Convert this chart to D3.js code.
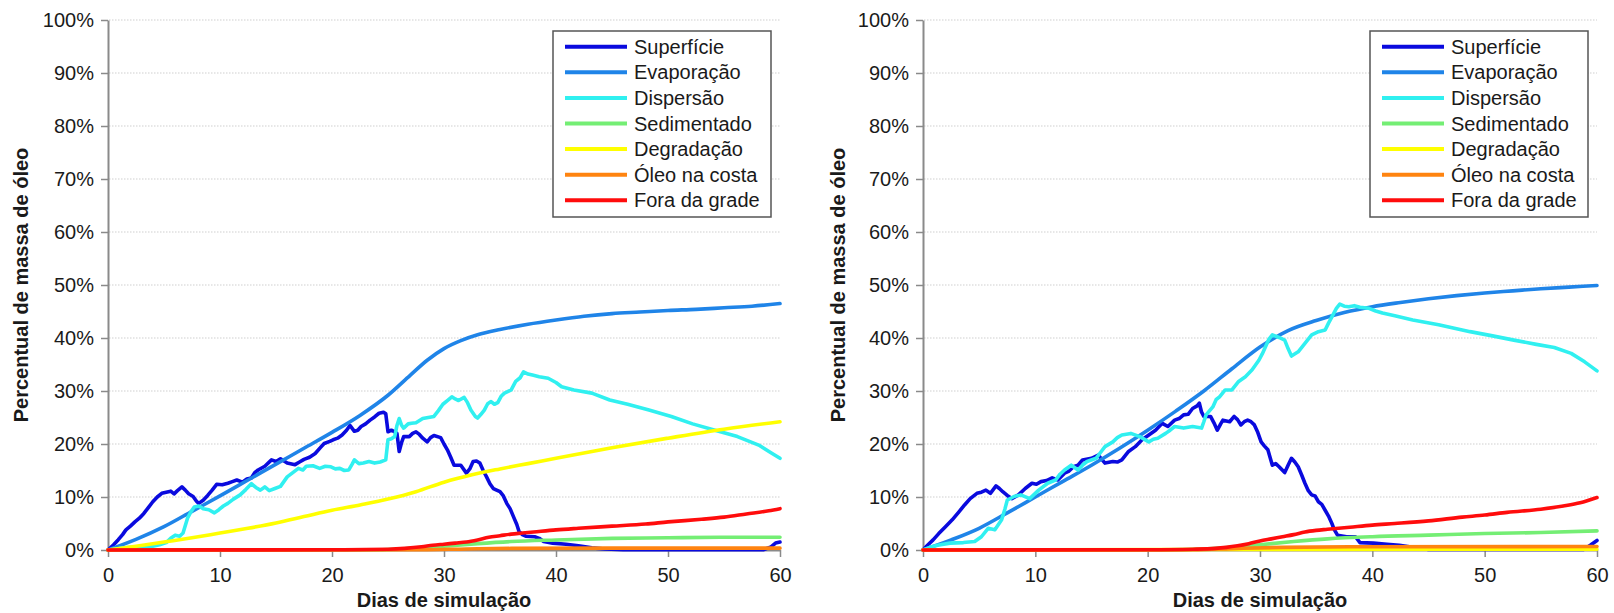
<!DOCTYPE html>
<html>
<head>
<meta charset="utf-8">
<script src="https://cdn.jsdelivr.net/npm/d3@7"></script>
<style>
  html, body { margin: 0; padding: 0; background: #fff; }
  svg { display: block; }
  text { font-family: "Liberation Sans", Arial, sans-serif; fill: #1a1a1a; }
</style>
</head>
<body>
<svg id="chart" width="1614" height="613"></svg>
<script>
// Series legend labels and colours (drawing order = legend order)
const seriesNames = ["Superfície", "Evaporação", "Dispersão", "Sedimentado", "Degradação", "Óleo na costa", "Fora da grade"];
const seriesColors = ["#0a0ade", "#1f84e8", "#30f0f0", "#74ee74", "#ffff00", "#ff8410", "#ff0c0c"];

const xTicks = [0, 10, 20, 30, 40, 50, 60];
const yTicks = [0, 10, 20, 30, 40, 50, 60, 70, 80, 90, 100];
const xTitle = "Dias de simulação";
const yTitle = "Percentual de massa de óleo";

// ---- Scenario A: [day, % of oil mass] ----
const aSuperficie = [[0,0],[0.5,1.0],[0.9,1.9],[1.3,2.9],[1.6,3.8],[2.0,4.5],[2.4,5.3],[2.8,6.0],[3.2,6.9],[3.6,8.0],[4.0,9.1],[4.4,10.0],[4.8,10.7],[5.2,10.9],[5.6,11.1],[5.9,10.6],[6.2,11.2],[6.6,11.9],[6.9,11.3],[7.2,10.6],[7.6,10.1],[7.9,9.2],[8.1,8.8],[8.5,9.4],[8.9,10.3],[9.3,11.3],[9.7,12.4],[10.2,12.3],[10.7,12.6],[11.1,12.9],[11.5,13.2],[12.0,12.8],[12.4,13.4],[12.8,13.6],[13.1,14.6],[13.4,15.1],[14.0,15.8],[14.6,17.0],[15.0,16.7],[15.4,17.2],[16.0,16.4],[16.7,16.1],[17.1,16.6],[17.5,17.1],[18.0,17.5],[18.5,18.2],[19.0,19.4],[19.3,20.1],[19.8,20.5],[20.1,20.8],[20.5,21.1],[20.9,21.7],[21.3,22.6],[21.6,23.5],[22.0,22.4],[22.3,22.6],[22.6,23.3],[23.0,23.8],[23.4,24.5],[23.8,25.1],[24.2,25.8],[24.6,26.0],[24.8,25.7],[25.0,22.3],[25.3,22.6],[25.6,22.3],[25.8,22.0],[26.0,18.6],[26.2,20.2],[26.4,21.4],[26.9,21.4],[27.2,22.0],[27.5,22.3],[27.8,21.8],[28.1,21.1],[28.5,20.4],[28.8,21.2],[29.1,21.6],[29.7,21.2],[30.0,20.0],[30.3,18.9],[30.6,17.5],[30.9,16.0],[31.5,16.0],[32.0,14.5],[32.3,15.3],[32.6,16.7],[32.9,16.8],[33.2,16.4],[33.5,15.0],[33.8,13.8],[34.1,12.5],[34.4,11.6],[35.0,11.0],[35.3,10.2],[35.6,8.8],[35.9,7.8],[36.2,6.3],[36.5,4.8],[36.7,3.5],[37.0,2.9],[37.3,2.6],[38.1,2.5],[38.5,2.2],[38.9,1.6],[39.7,1.3],[40.9,1.1],[42.0,0.8],[43.2,0.4],[44.4,0.2],[46.0,0.05],[58.5,0.05],[59.2,0.6],[59.6,1.3],[60,1.5]];
const aEvaporacao = [[0,0],[2.5,2.0],[5,4.4],[7.5,7.3],[10,10.2],[12.5,13.2],[15,16.2],[17.5,19.2],[20,22.2],[22.5,25.4],[25,29.2],[27,33.0],[28.5,35.8],[30,38.0],[31.5,39.5],[33,40.6],[35,41.6],[37.5,42.6],[40,43.4],[42.5,44.1],[45,44.6],[47.5,44.9],[50,45.2],[52.5,45.4],[55,45.7],[57.5,46.0],[60,46.5]];
const aDispersao = [[0,0],[1,0.3],[2,0.5],[3,0.6],[4,0.7],[4.6,1.0],[5.2,1.4],[5.6,2.2],[6.0,2.8],[6.4,2.6],[6.7,3.2],[7.1,6.0],[7.4,7.2],[7.7,8.1],[8.1,8.3],[8.5,7.8],[9.0,7.6],[9.5,7.0],[9.9,7.6],[10.3,8.3],[10.7,8.8],[11.2,9.6],[11.8,10.4],[12.3,11.4],[12.8,12.5],[13.2,11.8],[13.6,11.3],[14.0,11.9],[14.4,11.2],[14.9,11.6],[15.4,12.0],[15.7,12.9],[16.0,13.8],[16.5,14.6],[17.0,15.4],[17.4,15.1],[17.7,15.8],[18.3,15.9],[18.9,15.4],[19.4,15.8],[19.9,15.7],[20.3,15.3],[20.7,15.4],[21.1,15.0],[21.5,15.1],[21.8,16.2],[22.0,17.0],[22.4,16.3],[22.8,16.4],[23.3,16.7],[23.8,16.4],[24.3,16.6],[24.8,17.0],[25.0,20.8],[25.3,21.0],[25.6,21.4],[25.8,23.5],[26.0,24.8],[26.2,23.6],[26.4,23.0],[26.8,23.8],[27.1,23.9],[27.5,24.0],[28.1,24.8],[28.6,25.0],[29.1,25.2],[29.5,26.3],[29.9,27.5],[30.3,28.2],[30.7,28.9],[31.0,28.5],[31.3,28.2],[31.8,28.8],[32.1,27.8],[32.4,26.4],[32.8,25.2],[33.0,24.9],[33.3,25.6],[33.6,26.4],[33.9,27.6],[34.2,28.0],[34.5,27.5],[34.8,27.8],[35.1,29.0],[35.4,29.6],[36.0,30.2],[36.4,31.8],[36.8,32.5],[37.1,33.6],[37.5,33.2],[37.9,33.0],[38.5,32.7],[39.3,32.4],[40.0,31.6],[40.5,30.8],[41.6,30.2],[43.2,29.6],[44.8,28.3],[46.4,27.5],[48.3,26.4],[50.3,25.2],[52.2,23.8],[54.2,22.6],[56.2,21.4],[58.1,19.8],[59.3,18.2],[60,17.3]];
const aSedimentado = [[0,0],[24,0.05],[27,0.3],[30,0.7],[33,1.2],[36,1.6],[40,1.9],[45,2.2],[50,2.3],[55,2.4],[60,2.4]];
const aDegradacao = [[0,0],[2.5,0.7],[5,1.5],[7.5,2.3],[10,3.2],[12.5,4.1],[15,5.1],[17.5,6.3],[20,7.5],[22.5,8.5],[25,9.6],[27.5,11.0],[30,12.8],[32.5,14.2],[35,15.3],[37.5,16.3],[40,17.3],[45,19.3],[50,21.1],[55,22.8],[60,24.2]];
const aOleoCosta = [[0,0],[28,0.05],[32,0.2],[36,0.3],[45,0.35],[60,0.35]];
const aForaGrade = [[0,0],[20,0.05],[25,0.15],[26.5,0.3],[28,0.6],[29,0.9],[30,1.1],[31,1.3],[32,1.5],[33,1.9],[34,2.4],[35,2.7],[36,3.0],[37,3.2],[38,3.4],[40,3.8],[42,4.1],[45,4.5],[48,4.9],[50,5.3],[53,5.8],[55,6.2],[57,6.8],[59,7.4],[60,7.8]];

// ---- Scenario B: [day, % of oil mass] ----
const bSuperficie = [[0,0],[0.4,0.9],[0.9,1.9],[1.4,3.1],[2.0,4.4],[2.6,5.7],[3.2,7.2],[3.7,8.5],[4.2,9.7],[4.8,10.7],[5.2,10.9],[5.6,11.3],[6.0,10.7],[6.5,12.1],[6.8,11.6],[7.1,11.0],[7.5,10.3],[7.9,9.7],[8.5,10.4],[9.1,11.6],[9.7,12.6],[10.1,12.4],[10.5,12.9],[11.0,13.1],[11.5,13.6],[12.0,13.2],[12.6,14.5],[13.0,14.9],[13.4,15.7],[13.8,16.0],[14.2,17.0],[15.0,17.3],[15.6,17.9],[16.2,16.4],[16.9,16.7],[17.3,16.6],[17.7,17.0],[18.3,18.6],[18.9,19.5],[19.5,20.8],[20.1,21.7],[20.7,22.6],[21.3,23.9],[21.8,23.3],[22.4,24.5],[22.8,24.8],[23.2,25.5],[23.6,25.6],[24.0,26.7],[24.4,27.2],[24.6,27.7],[24.8,26.0],[25.0,25.2],[25.6,25.2],[25.9,24.0],[26.2,22.6],[26.5,23.8],[26.7,24.5],[27.3,24.2],[27.7,25.2],[28.0,24.6],[28.3,23.6],[28.6,24.2],[28.9,24.5],[29.2,24.2],[29.5,23.6],[29.8,22.2],[30.1,20.4],[30.4,19.6],[30.7,18.9],[31.1,16.0],[31.4,16.3],[31.7,15.7],[32.2,14.6],[32.5,16.0],[32.8,17.3],[33.1,16.6],[33.4,15.7],[33.7,14.2],[34.0,12.6],[34.3,11.2],[34.6,10.4],[34.9,10.2],[35.2,9.1],[35.5,8.6],[35.8,7.5],[36.1,6.4],[36.4,5.0],[36.6,3.9],[36.9,2.8],[37.7,2.5],[38.5,2.5],[38.9,1.4],[40.1,1.3],[41.3,1.1],[42.4,0.9],[43.6,0.5],[45.0,0.1],[58.8,0.1],[59.4,0.9],[60,1.8]];
const bEvaporacao = [[0,0],[2.5,1.9],[5,4.1],[7.5,7.0],[10,10.0],[12.5,13.0],[15,16.0],[17.5,19.2],[20,22.6],[22.5,26.2],[25,30.0],[27.5,34.2],[30,38.3],[32.5,41.4],[35,43.3],[37.5,44.8],[40,45.9],[42.5,46.7],[45,47.4],[47.5,48.0],[50,48.5],[52.5,48.9],[55,49.3],[57.5,49.6],[60,49.9]];
const bDispersao = [[0,0],[0.6,0.5],[1.3,0.9],[2.4,1.3],[3.6,1.4],[4.6,1.6],[5.2,2.5],[5.8,4.1],[6.4,3.8],[7.0,5.7],[7.3,7.8],[7.5,9.4],[8.1,10.1],[8.7,10.4],[9.5,9.7],[10.3,11.3],[11.1,12.6],[11.8,13.2],[12.2,14.3],[12.6,15.1],[13.2,16.0],[13.8,15.1],[14.2,16.0],[14.6,16.7],[15.4,17.3],[15.8,18.4],[16.2,19.5],[16.9,20.4],[17.3,21.2],[17.7,21.7],[18.5,22.0],[19.3,21.4],[20.1,20.4],[20.5,20.9],[20.9,21.1],[21.6,22.0],[22.0,22.6],[22.4,23.3],[23.2,23.0],[24.0,23.3],[24.8,23.0],[25.0,24.2],[25.2,25.5],[25.8,27.0],[26.1,28.4],[26.4,28.9],[26.9,30.2],[27.5,30.2],[28.1,31.8],[28.7,32.7],[29.3,34.0],[29.9,35.8],[30.2,37.0],[30.5,38.4],[30.8,39.8],[31.1,40.6],[31.7,40.1],[32.2,39.6],[32.5,38.0],[32.8,36.6],[33.4,37.4],[34.0,39.0],[34.6,40.6],[35.2,41.2],[35.8,41.5],[36.1,42.8],[36.4,44.0],[36.8,45.6],[37.1,46.4],[37.5,46.0],[37.9,45.9],[38.4,46.1],[38.9,45.8],[39.7,45.6],[40.3,45.1],[40.9,44.7],[42.0,44.2],[43.6,43.4],[45.9,42.5],[48.7,41.2],[50.7,40.4],[52.6,39.6],[54.6,38.8],[56.2,38.2],[57.7,37.1],[58.9,35.5],[60,33.8]];
const bSedimentado = [[0,0],[22,0.05],[25,0.2],[28,0.6],[30,1.0],[33,1.6],[36,2.1],[40,2.5],[45,2.8],[50,3.1],[55,3.3],[60,3.6]];
const bDegradacao = [[0,0],[10,0.05],[30,0.1],[60,0.15]];
const bOleoCosta = [[0,0],[24,0.05],[28,0.3],[32,0.5],[38,0.6],[60,0.65]];
const bForaGrade = [[0,0],[20,0.05],[24,0.15],[26,0.3],[27,0.5],[28,0.8],[29,1.2],[30,1.7],[31,2.1],[32,2.5],[33,2.9],[34,3.4],[35,3.7],[36,3.9],[38,4.3],[40,4.7],[42,5.0],[45,5.5],[48,6.2],[50,6.6],[52,7.1],[55,7.7],[57,8.3],[58.5,8.9],[60,9.9]];

const scenarioA = [aSuperficie, aEvaporacao, aDispersao, aSedimentado, aDegradacao, aOleoCosta, aForaGrade];
const scenarioB = [bSuperficie, bEvaporacao, bDispersao, bSedimentado, bDegradacao, bOleoCosta, bForaGrade];
// smooth (model-integrated) series vs. noisy ones
const smoothSeries = [false, true, false, true, true, true, true];

const svg = d3.select("#chart");
svg.append("rect").attr("width", 1614).attr("height", 613).attr("fill", "#fff");

function drawPanel(series, left, right, titleX) {
  const top = 20, bottom = 550;
  const x = d3.scaleLinear().domain([0, 60]).range([left, right]);
  const y = d3.scaleLinear().domain([0, 100]).range([bottom, top]);
  const g = svg.append("g");

  // dotted horizontal grid
  g.append("g").selectAll("line")
    .data(yTicks.filter(v => v > 0))
    .join("line")
    .attr("x1", left + 1).attr("x2", right)
    .attr("y1", d => y(d)).attr("y2", d => y(d))
    .attr("stroke", "#cfcfcf").attr("stroke-width", 1)
    .attr("stroke-dasharray", "1.5,1.5");

  // axes
  const yAxis = d3.axisLeft(y).tickValues(yTicks).tickFormat(d => d + "%")
    .tickSize(7).tickSizeOuter(0).tickPadding(7);
  const xAxis = d3.axisBottom(x).tickValues(xTicks).tickFormat(d3.format("d"))
    .tickSize(7).tickSizeOuter(0).tickPadding(11);

  const ya = g.append("g").attr("transform", `translate(${left},0)`).call(yAxis);
  const xa = g.append("g").attr("transform", `translate(0,${bottom})`).call(xAxis);
  [ya, xa].forEach(a => {
    a.select(".domain").attr("stroke", "#8a8a8a").attr("stroke-width", 2);
    a.selectAll(".tick line").attr("stroke", "#8a8a8a").attr("stroke-width", 1.5);
    a.selectAll(".tick text").attr("font-size", 20).attr("fill", "#1a1a1a")
      .style("font-family", '"Liberation Sans", Arial, sans-serif');
  });

  // axis titles
  g.append("text")
    .attr("x", (left + right) / 2).attr("y", 607)
    .attr("text-anchor", "middle").attr("font-size", 20).attr("font-weight", "bold")
    .text(xTitle);
  g.append("text")
    .attr("transform", `translate(${titleX},${(top + bottom) / 2}) rotate(-90)`)
    .attr("text-anchor", "middle").attr("font-size", 20).attr("font-weight", "bold")
    .text(yTitle);

  // data lines
  series.forEach((pts, i) => {
    const line = d3.line()
      .x(d => x(d[0])).y(d => y(d[1]))
      .curve(smoothSeries[i] ? d3.curveMonotoneX : d3.curveLinear);
    g.append("path")
      .datum(pts)
      .attr("fill", "none")
      .attr("stroke", seriesColors[i])
      .attr("stroke-width", 3.6)
      .attr("stroke-linejoin", "round")
      .attr("stroke-linecap", "round")
      .attr("d", line);
  });

  // legend
  const lx = right - 227, ly = 31, lw = 218, lh = 186;
  const lg = g.append("g");
  lg.append("rect").attr("x", lx).attr("y", ly).attr("width", lw).attr("height", lh)
    .attr("fill", "#fff").attr("stroke", "#555").attr("stroke-width", 1.5);
  seriesNames.forEach((name, i) => {
    const cy = 46.7 + i * 25.6;
    lg.append("line").attr("x1", lx + 12).attr("x2", lx + 74).attr("y1", cy).attr("y2", cy)
      .attr("stroke", seriesColors[i]).attr("stroke-width", 4);
    lg.append("text").attr("x", lx + 81).attr("y", cy + 7).attr("font-size", 20).text(name);
  });
}

drawPanel(scenarioA, 108, 780, 28);
drawPanel(scenarioB, 923, 1597, 845);
</script>
</body>
</html>
